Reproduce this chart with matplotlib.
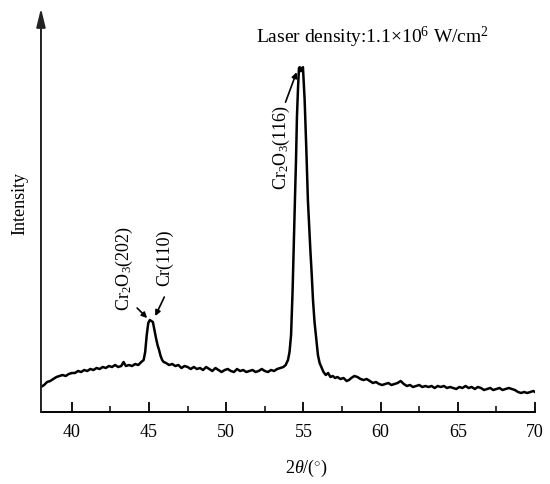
import matplotlib
matplotlib.use('Agg')
import matplotlib.pyplot as plt
from matplotlib.ticker import MultipleLocator

plt.rcParams['font.family'] = ['Liberation Serif', 'DejaVu Serif']
plt.rcParams['mathtext.fontset'] = 'custom'
plt.rcParams['mathtext.rm'] = 'Liberation Serif'
plt.rcParams['mathtext.it'] = 'Liberation Serif:italic'

# 2theta (deg) and intensity (a.u.)
two_theta = [
    38.0, 38.2, 38.4, 38.6, 38.8, 39.0, 39.2, 39.4, 39.6, 39.8,
    40.0, 40.2, 40.4, 40.6, 40.8, 41.0, 41.2, 41.4, 41.6, 41.8,
    42.0, 42.2, 42.4, 42.6, 42.8, 43.0, 43.2, 43.35, 43.5, 43.7,
    43.9, 44.1, 44.3, 44.5, 44.65, 44.75, 44.85, 44.95, 45.05, 45.15,
    45.25, 45.35, 45.45, 45.55, 45.65, 45.75, 45.85, 45.95, 46.1, 46.3,
    46.5, 46.7, 46.9, 47.1, 47.3, 47.5, 47.7, 47.9, 48.1, 48.3,
    48.5, 48.7, 48.9, 49.1, 49.3, 49.5, 49.7, 49.9, 50.1, 50.3,
    50.5, 50.7, 50.9, 51.1, 51.3, 51.5, 51.7, 51.9, 52.1, 52.3,
    52.5, 52.7, 52.9, 53.1, 53.3, 53.5, 53.7, 53.85, 54.0, 54.1,
    54.2, 54.3, 54.38, 54.45, 54.52, 54.58, 54.65, 54.71, 54.76, 54.83,
    54.90, 54.97, 55.03, 55.08, 55.19, 55.29, 55.37, 55.45, 55.54, 55.62,
    55.72, 55.84, 55.94, 56.05, 56.16, 56.3, 56.45, 56.6, 56.75, 56.9,
    57.05, 57.2, 57.4, 57.6, 57.8, 57.95, 58.1, 58.3, 58.5, 58.7,
    58.9, 59.1, 59.3, 59.5, 59.7, 59.9, 60.1, 60.3, 60.5, 60.7,
    60.9, 61.1, 61.3, 61.5, 61.7, 61.9, 62.1, 62.3, 62.5, 62.7,
    62.9, 63.1, 63.3, 63.5, 63.7, 63.9, 64.1, 64.3, 64.5, 64.7,
    64.9, 65.1, 65.3, 65.5, 65.7, 65.9, 66.1, 66.3, 66.5, 66.7,
    66.9, 67.1, 67.3, 67.5, 67.7, 67.9, 68.1, 68.3, 68.5, 68.7,
    68.9, 69.1, 69.3, 69.5, 69.7, 69.9, 70.0]
intensity = [
    25, 27, 30, 31, 33, 35, 36, 37, 36, 38,
    39, 39, 41, 40, 42, 41, 43, 42, 44, 43,
    45, 44, 46, 45, 47, 45, 46, 50, 46, 47,
    46, 48, 47, 50, 52, 60, 77, 89, 92, 91,
    90, 82, 74, 67, 62, 56, 52, 50, 49, 47,
    48, 46, 47, 44, 46, 45, 43, 45, 43, 44,
    42, 45, 43, 41, 44, 42, 40, 42, 43, 41,
    40, 43, 41, 42, 40, 41, 42, 40, 41, 43,
    41, 40, 42, 41, 43, 44, 45, 47, 52, 60,
    77, 122, 172, 212, 252, 295, 324, 344, 345, 341,
    344, 345, 327, 312, 262, 212, 187, 162, 137, 112,
    90, 72, 57, 49, 45, 40, 37, 39, 35, 36,
    34, 35, 33, 34, 31, 32, 34, 36, 35, 33,
    32, 33, 31, 29, 30, 28, 27, 28, 29, 27,
    28, 29, 31, 28, 26, 27, 25, 26, 27, 25,
    26, 25, 26, 24, 26, 25, 26, 24, 25, 24,
    23, 25, 24, 26, 24, 25, 23, 25, 24, 22,
    23, 24, 22, 23, 24, 22, 23, 24, 23, 22,
    20, 19, 20, 19, 20, 21, 20]

fig = plt.figure(figsize=(5.5, 4.84), dpi=100)
ax = fig.add_axes([0.0745, 0.1488, 0.8982, 0.8342])

ax.plot(two_theta, intensity, color='k', lw=1.8)

ax.set_xlim(38, 70)
ax.set_ylim(0, 404)
ax.spines['top'].set_visible(False)
ax.spines['right'].set_visible(False)
ax.spines['left'].set_visible(False)
ax.spines['bottom'].set_linewidth(1.4)

ax.xaxis.set_major_locator(MultipleLocator(5))
ax.xaxis.set_minor_locator(MultipleLocator(2.5))
ax.tick_params(axis='x', which='major', direction='in', length=7, width=1.3,
               labelsize=13, pad=9)
ax.tick_params(axis='x', which='minor', direction='in', length=4, width=1.1)
ax.set_yticks([])

# y axis drawn as an arrow
ax.annotate('', xy=(38, 404), xytext=(38, 0), annotation_clip=False,
            arrowprops=dict(arrowstyle='-|>,head_length=0.7,head_width=0.17',
                            lw=1.4, color='#222222',
                            mutation_scale=16, shrinkA=0, shrinkB=0))

fig.text(0.036, 0.58, 'Intensity', rotation=90, ha='center', va='center', fontsize=13)
fig.text(0.558, 0.033, r'2$\it{\theta}$/($^{\circ}$)', ha='center', va='center', fontsize=13)

arr = dict(arrowstyle='-|>', lw=1.2, color='k', mutation_scale=8, shrinkA=0, shrinkB=0)
ax.annotate('', xy=(54.56, 340), xytext=(53.84, 310), arrowprops=arr)
ax.annotate('', xy=(44.88, 94), xytext=(44.23, 104), arrowprops=arr)
ax.annotate('', xy=(45.40, 96), xytext=(45.99, 115), arrowprops=arr)

ax.text(53.58, 265, r'Cr$_2$O$_3$(116)', rotation=90, ha='center', va='center', fontsize=13)
ax.text(43.39, 144, r'Cr$_2$O$_3$(202)', rotation=90, ha='center', va='center', fontsize=13)
ax.text(45.99, 154, 'Cr(110)', rotation=90, ha='center', va='center', fontsize=13)
ax.text(51.96, 369, r'Laser density:1.1$\times$10$^6$ W/cm$^2$', ha='left',
        va='baseline', fontsize=14)

fig.savefig('out.png', dpi=100)
